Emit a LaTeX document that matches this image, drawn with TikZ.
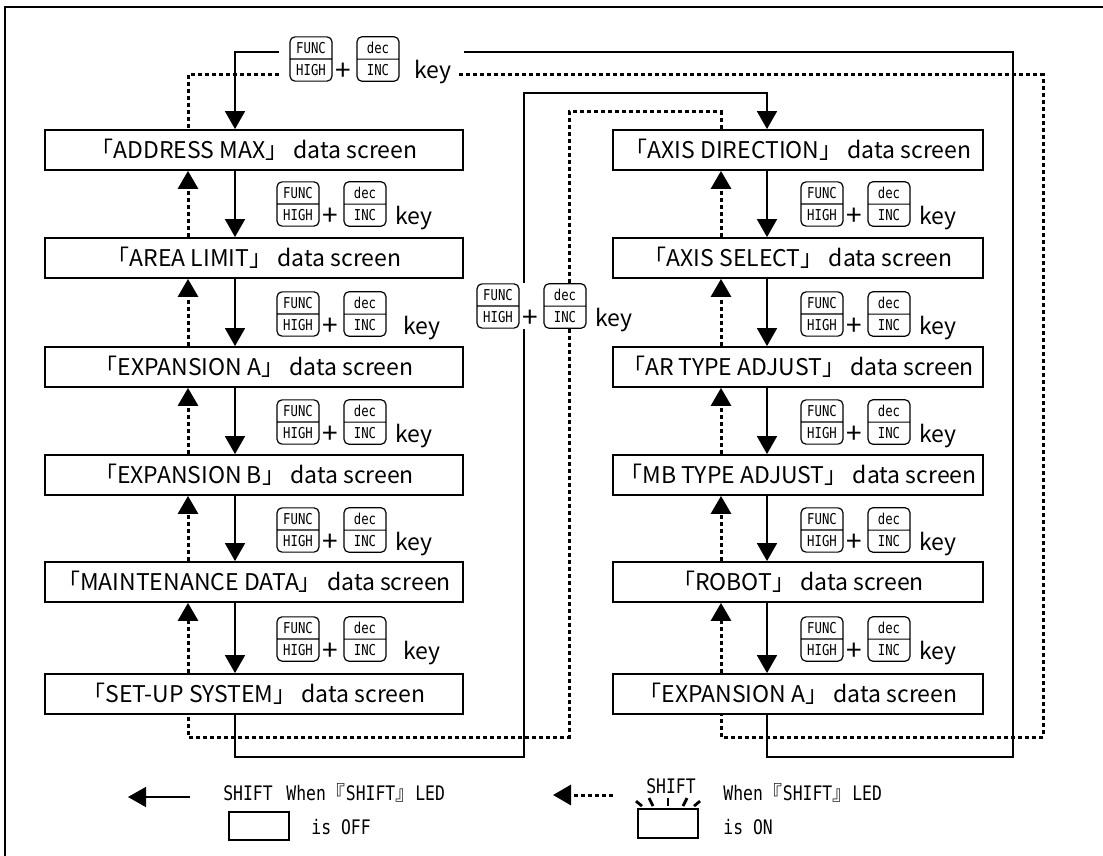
\documentclass[tikz,border=0pt]{standalone}
\usepackage{fontspec}
\setmainfont{Noto Sans CJK JP}
\newfontfamily\cjkfont{Noto Sans CJK JP}
\newfontfamily\capfont{DejaVu Sans Mono}[FakeStretch=0.82]
\usetikzlibrary{arrows.meta,positioning,shapes.multipart}

\tikzset{
  screen/.style={draw, line width=0.9pt, minimum height=20pt, inner sep=0pt, font=\fontsize{11.5}{13}\selectfont},
  lscreen/.style={screen, minimum width=209pt},
  rscreen/.style={screen, minimum width=185pt},
  keycap/.style={draw, line width=0.6pt, rounded corners=2.5pt, rectangle split, rectangle split parts=2,
    minimum width=21pt, inner xsep=1pt, inner ysep=2.4pt, font=\capfont\fontsize{7.5}{8}\selectfont},
  plus/.style={inner sep=0pt, font=\fontsize{14}{14}\selectfont},
  keyword/.style={anchor=base west, inner sep=0pt, font=\fontsize{11.5}{13}\selectfont},
  legend/.style={anchor=base west, inner sep=0pt, font=\capfont\fontsize{10}{11}\selectfont},
  line/.style={line width=0.8pt},
  fwd/.style={line, -{Triangle[length=9pt,width=10pt]}},
  dots/.style={line width=1.5pt, dash pattern=on 2pt off 1.5pt},
  bck/.style={dots, -{Triangle[length=9pt,width=10pt]}},
  ray/.style={line width=1.4pt},
  keys/.pic={
    \node[keycap] (-func) at (0,0) {FUNC\nodepart{two}HIGH};
    \node[plus] (-plus) at (32,13) {+};
    \node[keycap] (-dec) at (67,0) {dec\nodepart{two}INC};
    \node[keyword] (-key) at (#1,20) {key};
  }
}

\begin{document}
\begin{tikzpicture}[x=0.5pt, y=-0.5pt]
    \useasboundingbox (0,0) rectangle (1103,856);
    \draw[line width=1pt] (5,856) -- (5,7) -- (1103,7);

    % lanes
    \coordinate (Lfw) at (235,0);
    \coordinate (Lbk) at (188,0);
    \coordinate (Rfw) at (767,0);
    \coordinate (Rbk) at (721,0);
    \coordinate (Mfw) at (524,0);
    \coordinate (Mbk) at (569,0);
    \coordinate (Ofw) at (1013,0);
    \coordinate (Obk) at (1043,0);
    \coordinate (Nfw) at (0,93);
    \coordinate (Nbk) at (0,112);
    \coordinate (Bfw) at (0,757);
    \coordinate (Bbk) at (0,737);
    \coordinate (tinS) at (279,52);
    \coordinate (tinD) at (279,75);
    \coordinate (toutS) at (464,52);
    \coordinate (toutD) at (459,75);

    % left column
    \node[lscreen] (adr) at (254,150) {「ADDRESS MAX」 data screen};
    \node[lscreen] (area) at (254,258) {「AREA LIMIT」 data screen};
    \node[lscreen] (expa) at (254,367) {「EXPANSION A」 data screen};
    \node[lscreen] (expb) at (254,475) {「EXPANSION B」 data screen};
    \node[lscreen] (mnt) at (254,582) {「MAINTENANCE DATA」 data screen};
    \node[lscreen] (setup) at (254,694) {「SET-UP SYSTEM」 data screen};

    % right column
    \node[rscreen] (axd) at (798,150) {「AXIS DIRECTION」 data screen};
    \node[rscreen] (axs) at (798,258) {「AXIS SELECT」 data screen};
    \node[rscreen] (art) at (798,367) {「AR TYPE ADJUST」 data screen};
    \node[rscreen] (mbt) at (798,475) {「MB TYPE ADJUST」 data screen};
    \node[rscreen] (rob) at (798,582) {「ROBOT」 data screen};
    \node[rscreen] (exR) at (798,694) {「EXPANSION A」 data screen};

    % key labels
    \pic (T) at (311,59) {keys=103};
    \pic (M) at (498,306) {keys=97};
    \pic (L1) at (298,204) {keys=97};
    \pic (L2) at (298,314) {keys=105};
    \pic (L3) at (298,422) {keys=97};
    \pic (L4) at (298,530) {keys=97};
    \pic (L5) at (298,639) {keys=105};
    \pic (R1) at (822,204) {keys=97};
    \pic (R2) at (822,314) {keys=97};
    \pic (R3) at (822,422) {keys=97};
    \pic (R4) at (822,530) {keys=97};
    \pic (R5) at (822,639) {keys=97};

    % left column steps
    \draw[fwd] (adr.south -| Lfw) -- (area.north -| Lfw);
    \draw[fwd] (area.south -| Lfw) -- (expa.north -| Lfw);
    \draw[fwd] (expa.south -| Lfw) -- (expb.north -| Lfw);
    \draw[fwd] (expb.south -| Lfw) -- (mnt.north -| Lfw);
    \draw[fwd] (mnt.south -| Lfw) -- (setup.north -| Lfw);
    \draw[bck] (area.north -| Lbk) -- (adr.south -| Lbk);
    \draw[bck] (expa.north -| Lbk) -- (area.south -| Lbk);
    \draw[bck] (expb.north -| Lbk) -- (expa.south -| Lbk);
    \draw[bck] (mnt.north -| Lbk) -- (expb.south -| Lbk);
    \draw[bck] (setup.north -| Lbk) -- (mnt.south -| Lbk);

    % right column steps
    \draw[fwd] (axd.south -| Rfw) -- (axs.north -| Rfw);
    \draw[fwd] (axs.south -| Rfw) -- (art.north -| Rfw);
    \draw[fwd] (art.south -| Rfw) -- (mbt.north -| Rfw);
    \draw[fwd] (mbt.south -| Rfw) -- (rob.north -| Rfw);
    \draw[fwd] (rob.south -| Rfw) -- (exR.north -| Rfw);
    \draw[bck] (axs.north -| Rbk) -- (axd.south -| Rbk);
    \draw[bck] (art.north -| Rbk) -- (axs.south -| Rbk);
    \draw[bck] (mbt.north -| Rbk) -- (art.south -| Rbk);
    \draw[bck] (rob.north -| Rbk) -- (mbt.south -| Rbk);
    \draw[bck] (exR.north -| Rbk) -- (rob.south -| Rbk);

    % wrap round, top
    \draw[fwd] (tinS) -| (adr.north -| Lfw);
    \draw[dots] (tinD) -| (adr.north -| Lbk);
    \draw[line] (toutS) -| (Ofw |- Bfw) -| (exR.south -| Rfw);
    \draw[dots] (toutD) -| (Obk |- Bbk) -| (exR.south -| Rbk);

    % left to right column
    \draw[line] (setup.south -| Lfw) |- (Mfw |- Bfw) -- (Mfw |- M-func.south);
    \draw[fwd] (Mfw |- M-func.north) |- (Rfw |- Nfw) -- (axd.north -| Rfw);
    \draw[dots] (axd.north -| Rbk) |- (Mbk |- Nbk) -- (Mbk |- M-func.north);
    \draw[dots] (Mbk |- M-func.south) |- (Lbk |- Bbk) -- (setup.south -| Lbk);

    % legend
    \coordinate (offtip) at (128,797);
    \coordinate (offtail) at (190,797);
    \draw[fwd] (offtail) -- (offtip);
    \node[legend, anchor=base] (offsh) at (248,800) {SHIFT};
    \node[draw, line width=0.9pt, minimum width=30pt, minimum height=14pt, inner sep=0pt] (offled) at (259,826) {};
    \node[legend] (offw) at (286,800) {When{\cjkfont 『}SHIFT{\cjkfont 』}LED};
    \node[legend] (offis) at (311,834) {is OFF};

    \coordinate (ontip) at (553,795);
    \coordinate (ontail) at (613,795);
    \draw[bck] (ontail) -- (ontip);
    \node[legend, anchor=base] (onsh) at (671,793) {SHIFT};
    \node[draw, line width=0.9pt, minimum width=30pt, minimum height=14.5pt, inner sep=0pt] (onled) at (668,823.5) {};
    \draw[ray] ([shift={(-32,-7)}]onled.north) -- ([shift={(-26,-2)}]onled.north);
    \draw[ray] ([shift={(-19,-10)}]onled.north) -- ([shift={(-15,-2)}]onled.north);
    \draw[ray] ([shift={(0,-10)}]onled.north) -- ([shift={(0,-2)}]onled.north);
    \draw[ray] ([shift={(19,-10)}]onled.north) -- ([shift={(15,-2)}]onled.north);
    \draw[ray] ([shift={(32,-7)}]onled.north) -- ([shift={(26,-2)}]onled.north);
    \node[legend] (onw) at (723,800) {When{\cjkfont 『}SHIFT{\cjkfont 』}LED};
    \node[legend] (onis) at (723,834) {is ON};
\end{tikzpicture}
\end{document}
